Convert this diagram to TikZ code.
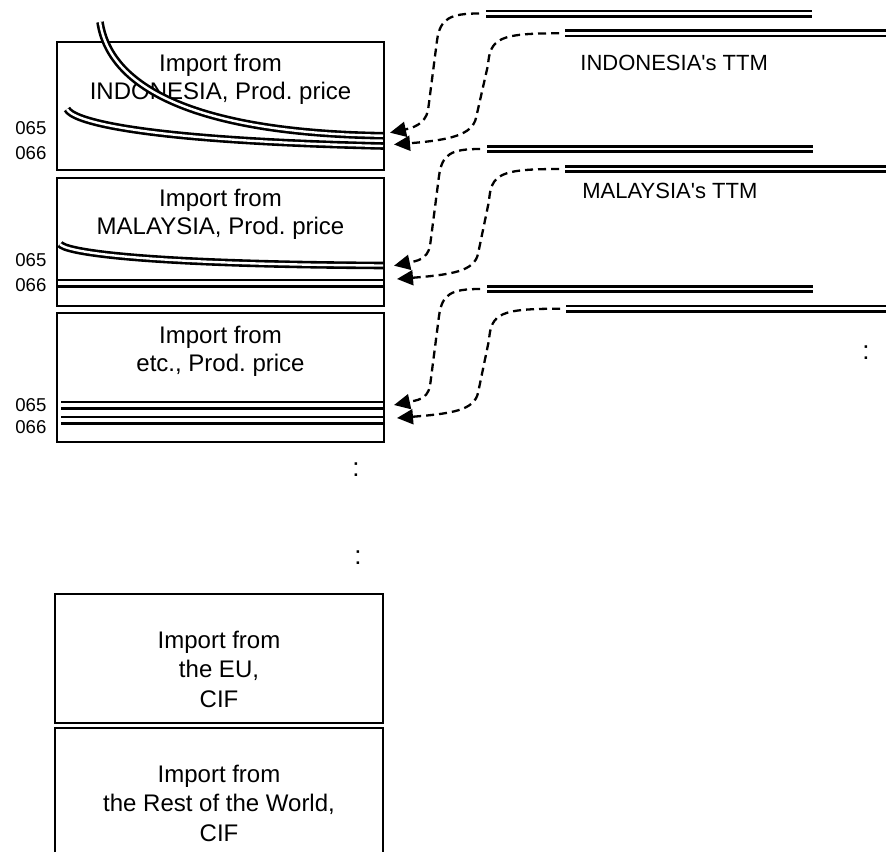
\documentclass[tikz,border=0pt]{standalone}
\usepackage{fontspec}
\setmainfont{Liberation Sans}[Ligatures=TeXOff]
\usetikzlibrary{arrows.meta}
\frenchspacing
\tikzset{
  boxframe/.style={draw, line width=1.3pt, inner sep=0pt},
  ttmline/.style={line width=1.35pt, double=white, double distance=1.3pt},
  flowline/.style={line width=1.3pt, double=white, double distance=1.2pt},
  flatline/.style={line width=1.25pt, double=white, double distance=2pt},
  ttmarrow/.style={dash pattern=on 4pt off 2.5pt, line width=1.15pt, -{Triangle[length=8pt,width=7.5pt]}},
  boxtext/.style={align=center, inner sep=0pt, font=\fontsize{12}{14}\selectfont},
  boxtextb/.style={align=center, inner sep=0pt, font=\fontsize{12}{14.75}\selectfont},
  code/.style={font=\fontsize{9.3}{10}\selectfont, anchor=west, inner sep=0pt},
  ttmlabel/.style={font=\fontsize{11}{13}\selectfont, anchor=base west, inner sep=0pt},
  dots/.style={font=\fontsize{13}{14}\selectfont, inner sep=0pt}
}
\begin{document}
\begin{tikzpicture}[x=0.5pt, y=-0.5pt]
\useasboundingbox (0,0) rectangle (886,852);

% boxes
\node[boxframe, minimum width=163.5pt, minimum height=64pt] (box1) at (220.5,106) {};
\node[boxframe, minimum width=163.5pt, minimum height=64pt] (box2) at (220.5,242) {};
\node[boxframe, minimum width=163.5pt, minimum height=64.5pt] (box3) at (220.5,377.5) {};
\node[boxframe, minimum width=164pt, minimum height=64.5pt] (box4) at (219,658.5) {};
\draw[line width=1.3pt] (55,852) |- (383,728) -- (383,852);

% box texts
\node[boxtext] (t1) at (220.5,79.3) {Import from\\INDONESIA, Prod. price};
\node[boxtext] (t2) at (220.5,214.3) {Import from\\MALAYSIA, Prod. price};
\node[boxtext] (t3) at (220.5,351.3) {Import from\\etc., Prod. price};
\node[boxtextb] (t4) at (219,669) {Import from\\the EU,\\CIF};
\node[boxtextb] (t5) at (219,803) {Import from\\the Rest of the World,\\CIF};

% codes
\node[code] (c1a) at (15,128) {065};
\node[code] (c1b) at (15,153) {066};
\node[code] (c2a) at (15,260) {065};
\node[code] (c2b) at (15,285) {066};
\node[code] (c3a) at (15,405) {065};
\node[code] (c3b) at (15,427) {066};

% dots
\node[dots] (d1) at (866,353) {:};
\node[dots] (d2) at (356,470) {:};
\node[dots] (d3) at (358,558) {:};

% TTM labels
\node[ttmlabel] (l1) at (580,70) {INDONESIA's TTM};
\node[ttmlabel] (l2) at (582,198) {MALAYSIA's TTM};

% TTM lines
\coordinate (A1s) at (486,13.5);  \coordinate (A1e) at (812,13.5);
\coordinate (A2s) at (565,33.3);  \coordinate (A2e) at (886,33.3);
\coordinate (B1s) at (487,149);   \coordinate (B1e) at (813,149);
\coordinate (B2s) at (565,169);   \coordinate (B2e) at (886,169);
\coordinate (C1s) at (487,289);   \coordinate (C1e) at (813,289);
\coordinate (C2s) at (566,308.7); \coordinate (C2e) at (886,308.7);
\foreach \p in {A1,A2,B1,B2,C1,C2} \draw[ttmline] (\p s) -- (\p e);

% flows inside boxes
\coordinate (f1s) at (100,22);   \coordinate (f1e) at (383,135.7);
\coordinate (f2s) at (67,109);   \coordinate (f2e) at (383,146);
\coordinate (f3s) at (60,244);   \coordinate (f3e) at (383,265.5);
\coordinate (f4s) at (58,283);   \coordinate (f4e) at (383,283);
\coordinate (f5s) at (61,405);   \coordinate (f5e) at (383,405);
\coordinate (f6s) at (61,420);   \coordinate (f6e) at (383,420);
\draw[flowline] (f1s) .. controls (110,90) and (200,133) .. (f1e);
\draw[flowline] (f2s) .. controls (72,120) and (130,140) .. (f2e);
\draw[flowline] (f3s) .. controls (64,251) and (130,264) .. (f3e);
\draw[flatline] (f4s) -- (f4e);
\draw[flatline] (f5s) -- (f5e);
\draw[flatline] (f6s) -- (f6e);

% dashed arrows
\coordinate (A1m) at (437,40.5);  \coordinate (A1n) at (428,110.5); \coordinate (A1t) at (390,132.7);
\coordinate (A2m) at (488,65);    \coordinate (A2n) at (476,118);   \coordinate (A2t) at (394,144.5);
\coordinate (B1m) at (439,176);   \coordinate (B1n) at (430,246);   \coordinate (B1t) at (394,265.7);
\coordinate (B2m) at (489,201);   \coordinate (B2n) at (478,254);   \coordinate (B2t) at (397,279);
\coordinate (C1m) at (439,316);   \coordinate (C1n) at (430,386);   \coordinate (C1t) at (394,405);
\coordinate (C2m) at (489,340);   \coordinate (C2n) at (478,393);   \coordinate (C2t) at (397,418);
\foreach \p in {A1,B1,C1}
  \draw[ttmarrow] (\p s) ++(-7,0) .. controls +(-29,0) and +(3,-22) .. (\p m)
     -- (\p n) .. controls +(-3,14) and +(22,-4.7) .. (\p t);
\foreach \p in {A2,B2,C2}
  \draw[ttmarrow] (\p s) ++(-6,0) .. controls +(-59,0) and +(2,-27) .. (\p m)
     -- (\p n) .. controls +(-4,17) and +(56,-4.5) .. (\p t);
\end{tikzpicture}
\end{document}
